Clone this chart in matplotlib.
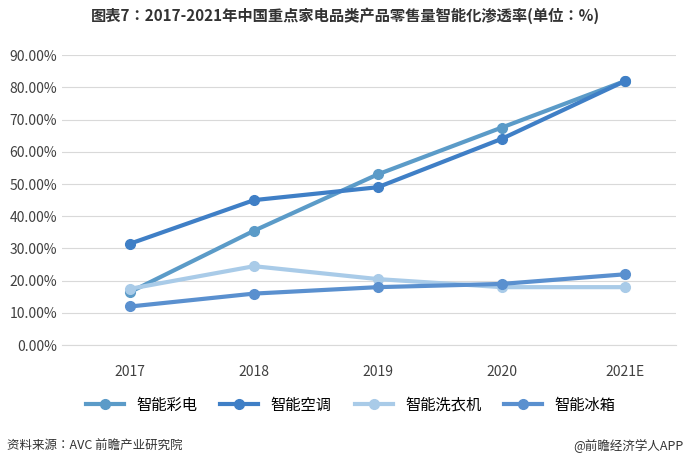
import matplotlib
matplotlib.use("Agg")
import matplotlib.pyplot as plt
from matplotlib import font_manager
from matplotlib.ticker import FuncFormatter

# pick up an installed CJK font
cjk = [f for f in font_manager.fontManager.ttflist if "CJK" in f.name]
cjk_name = cjk[0].name if cjk else "Noto Sans CJK SC"
for f in cjk:
    if "SC" in f.name:
        cjk_name = f.name
        break
plt.rcParams["font.family"] = [cjk_name, "DejaVu Sans"]

years = ["2017", "2018", "2019", "2020", "2021E"]
tv = [16.5, 35.5, 53.0, 67.5, 82.0]
ac = [31.5, 45.0, 49.0, 64.0, 82.0]
washer = [17.5, 24.5, 20.5, 18.0, 18.0]
fridge = [12.0, 16.0, 18.0, 19.0, 22.0]

series = [
    ("智能彩电", tv, "#5b9bc8"),
    ("智能空调", ac, "#3f7fc6"),
    ("智能洗衣机", washer, "#a9cbe8"),
    ("智能冰箱", fridge, "#5a90cf"),
]

fig = plt.figure(figsize=(6.9, 4.59), dpi=100)
ax = fig.add_axes([0.09, 0.248, 0.89, 0.632])
x = range(len(years))
for name, vals, color in series:
    ax.plot(x, vals, "-o", color=color, lw=3, ms=7, label=name)

ax.set_ylim(0, 90)
ax.set_yticks(range(0, 91, 10))
ax.yaxis.set_major_formatter(FuncFormatter(lambda v, _: f"{v:.2f}%"))
ax.set_xticks(list(x))
ax.set_xticklabels(years)
ax.set_xlim(-0.55, 4.41)
ax.grid(axis="y", color="#d9d9d9", lw=0.8)
for s in ["top", "right", "left"]:
    ax.spines[s].set_visible(False)
ax.spines["bottom"].set_color("#d9d9d9")
ax.tick_params(length=0, labelsize=10, colors="#404040")
ax.tick_params(axis="x", pad=14)

ax.legend(loc="upper center", bbox_to_anchor=(0.47, -0.13), ncol=4, frameon=False,
          fontsize=11, handlelength=2.5, columnspacing=1.5)

fig.text(0.5, 0.955, "图表7：2017-2021年中国重点家电品类产品零售量智能化渗透率(单位：%)",
         ha="center", fontsize=11, fontweight="bold", color="#333333")
fig.text(0.01, 0.02, "资料来源：AVC 前瞻产业研究院", fontsize=9, color="#333333")
fig.text(0.99, 0.02, "@前瞻经济学人APP", fontsize=9, color="#333333", ha="right")
fig.savefig("out.png")
